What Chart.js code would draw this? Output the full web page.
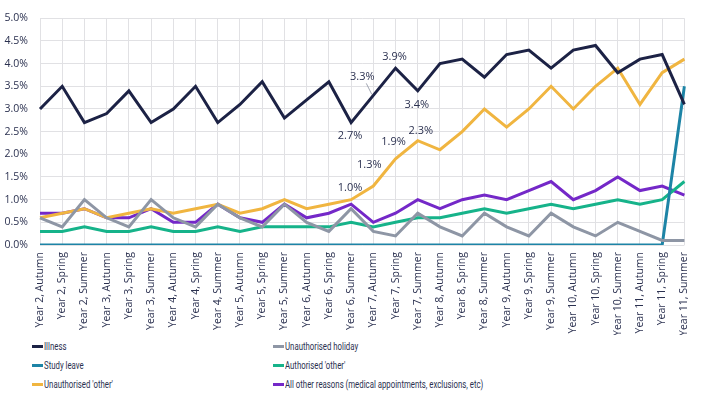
<!DOCTYPE html>
<html>
<head>
<meta charset="utf-8">
<script src="https://cdn.jsdelivr.net/npm/chart.js@4"></script>
<style>
  html, body { margin: 0; padding: 0; background: #fff; }
  #wrap { position: relative; width: 704px; height: 398px; overflow: hidden; }
  #box { position: absolute; left: 0; top: 0; width: 704px; height: 335px; }
  #legend { position: absolute; left: 32px; top: 339px; width: 660px;
    display: grid; grid-template-columns: 241px 400px; row-gap: 4px;
    font-family: Roboto, "Noto Sans", sans-serif;
    font-size: 11px; color: #2b3150; }
  #legend span.item { display: flex; align-items: center; height: 15px; white-space: nowrap; }
  #legend i { display: inline-block; width: 11px; height: 3px; margin-right: 1px; flex: none; }
  #legend b { font-weight: normal; display: inline-block; transform: scaleX(0.71); transform-origin: left center; }
</style>
</head>
<body>
<div id="wrap">
  <div id="box"><canvas id="chart"></canvas></div>
  <div id="legend"></div>
</div>
<script>
window.onload = function(){

  //#region data
  var terms = ['Year 2, Autumn','Year 2, Spring','Year 2, Summer','Year 3, Autumn','Year 3, Spring','Year 3, Summer',
    'Year 4, Autumn','Year 4, Spring','Year 4, Summer','Year 5, Autumn','Year 5, Spring','Year 5, Summer',
    'Year 6, Autumn','Year 6, Spring','Year 6, Summer','Year 7, Autumn','Year 7, Spring','Year 7, Summer',
    'Year 8, Autumn','Year 8, Spring','Year 8, Summer','Year 9, Autumn','Year 9, Spring','Year 9, Summer',
    'Year 10, Autumn','Year 10, Spring','Year 10, Summer','Year 11, Autumn','Year 11, Spring','Year 11, Summer']
  var illness      = [3.0,3.5,2.7, 2.9,3.4,2.7, 3.0,3.5,2.7, 3.1,3.6,2.8, 3.2,3.6,2.7, 3.3,3.9,3.4, 4.0,4.1,3.7, 4.2,4.3,3.9, 4.3,4.4,3.8, 4.1,4.2,3.1]
  var unauthHoliday= [0.6,0.4,1.0, 0.6,0.4,1.0, 0.6,0.4,0.9, 0.6,0.4,0.9, 0.5,0.3,0.8, 0.3,0.2,0.7, 0.4,0.2,0.7, 0.4,0.2,0.7, 0.4,0.2,0.5, 0.3,0.1,0.1]
  var studyLeave   = [0,0,0, 0,0,0, 0,0,0, 0,0,0, 0,0,0, 0,0,0, 0,0,0, 0,0,0, 0,0,0, 0,0,3.5]
  var authOther    = [0.3,0.3,0.4, 0.3,0.3,0.4, 0.3,0.3,0.4, 0.3,0.4,0.4, 0.4,0.4,0.5, 0.4,0.5,0.6, 0.6,0.7,0.8, 0.7,0.8,0.9, 0.8,0.9,1.0, 0.9,1.0,1.4]
  var unauthOther  = [0.6,0.7,0.8, 0.6,0.7,0.8, 0.7,0.8,0.9, 0.7,0.8,1.0, 0.8,0.9,1.0, 1.3,1.9,2.3, 2.1,2.5,3.0, 2.6,3.0,3.5, 3.0,3.5,3.9, 3.1,3.8,4.1]
  var allOther     = [0.7,0.7,0.8, 0.6,0.6,0.8, 0.5,0.5,0.9, 0.6,0.5,0.9, 0.6,0.7,0.9, 0.5,0.7,1.0, 0.8,1.0,1.1, 1.0,1.2,1.4, 1.0,1.2,1.5, 1.2,1.3,1.1]
  var yTicks = [0,0.5,1,1.5,2,2.5,3,3.5,4,4.5,5]
  //#endregion

  // which points carry a value label (ds index, point index) and where the text sits
  var callouts = [
    {ds:0, i:14, dx:-1,  dy:13},
    {ds:0, i:15, dx:-11, dy:-19, leader:true},
    {ds:0, i:16, dx:-1,  dy:-11},
    {ds:0, i:17, dx:-1,  dy:14},
    {ds:4, i:14, dx:-1,  dy:-12},
    {ds:4, i:15, dx:-4,  dy:-21},
    {ds:4, i:16, dx:-2,  dy:-17},
    {ds:4, i:17, dx:3,   dy:-10}
  ]

  var font = '"Open Sans", "Noto Sans", sans-serif'
  var txt = '#2b3150'

  function ds(label, data, col){
    return {label:label, data:data, borderColor:col, backgroundColor:col,
      borderWidth:3, pointRadius:0, tension:0, fill:false}
  }

  var calloutPlugin = {
    id:'callouts',
    afterDatasetsDraw: function(chart){
      var c = chart.ctx, x = chart.scales.x, y = chart.scales.y
      c.save()
      c.font = '11px ' + font
      c.fillStyle = txt
      c.textAlign = 'center'
      c.textBaseline = 'middle'
      callouts.forEach(function(o){
        var v = chart.data.datasets[o.ds].data[o.i]
        var px = x.getPixelForValue(o.i), py = y.getPixelForValue(v)
        c.fillText(v.toFixed(1) + '%', px + o.dx, py + o.dy)
        if (o.leader){
          c.strokeStyle = '#7a7f90'
          c.lineWidth = 0.7
          c.beginPath()
          c.moveTo(px + o.dx + 4, py + o.dy + 7)
          c.lineTo(px - 1.5, py - 1)
          c.stroke()
        }
      })
      c.restore()
    }
  }

  var ReportChart = new Chart(document.getElementById('chart'), {
    type:'line',
    data:{
      labels:terms,
      datasets:[
        ds('Illness', illness, '#1c2245'),
        ds('Unauthorised holiday', unauthHoliday, '#8e96a5'),
        ds('Study leave', studyLeave, '#1d84a6'),
        ds("Authorised 'other'", authOther, '#16b38a'),
        ds("Unauthorised 'other'", unauthOther, '#f0b540'),
        ds('All other reasons (medical appointments, exclusions, etc)', allOther, '#7428c8')
      ]
    },
    options:{
      responsive:true,
      maintainAspectRatio:false,
      animation:false,
      layout:{padding:{top:11, right:19, left:0, bottom:0}},
      plugins:{legend:{display:false}, tooltip:{enabled:false}},
      scales:{
        x:{
          offset:false,
          grid:{color:'#e1e1e4', drawTicks:false},
          border:{display:false},
          ticks:{autoSkip:false, minRotation:90, maxRotation:90, padding:7,
            color:txt, font:{family:font, size:10.5}},
          afterFit:function(s){ s.height = 90 }
        },
        y:{
          min:0, max:5,
          afterBuildTicks:function(s){ s.ticks = yTicks.map(function(v){ return {value:v} }) },
          grid:{color:'#e1e1e4', drawTicks:false},
          border:{display:false},
          ticks:{padding:12, color:txt, font:{family:font, size:10.5},
            callback:function(v){ return v.toFixed(1) + '%' }},
          afterFit:function(s){ s.width = 40 }
        }
      }
    },
    plugins:[calloutPlugin]
  })

  // legend in two columns, row by row, built from the datasets
  var lg = document.getElementById('legend')
  ReportChart.data.datasets.forEach(function(d){
    var s = document.createElement('span')
    s.className = 'item'
    s.innerHTML = '<i style="background:' + d.borderColor + '"></i><b>' + d.label + '</b>'
    lg.appendChild(s)
  })

}
</script>
</body>
</html>
